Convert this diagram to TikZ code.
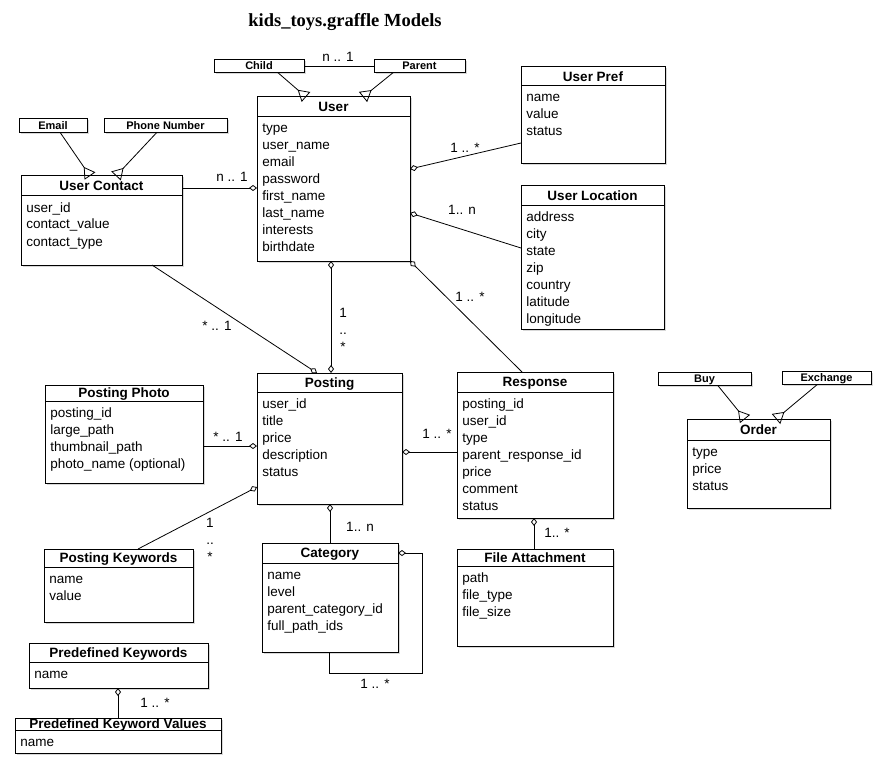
\documentclass[tikz,border=0pt]{standalone}
\usepackage{fontspec}
\setmainfont{Liberation Sans}
\newfontfamily\titlefont{Liberation Serif}
\usetikzlibrary{arrows.meta,shadows}

\newcommand{\umlclass}[8]{%
  \node[classbox, minimum width=#4pt, minimum height=#5pt] (#1) at (#2,#3) {};
  \node[classtitle] (#1-title) at (#2+#4/2,#3+#6/2) {#7};
  \draw[line width=1pt] (#2,#3+#6) -- (#2+#4,#3+#6);
  \node[classfields] (#1-fields) at (#2+5,#3+#6+16) {\begin{tabular}[t]{@{}l@{}}#8\end{tabular}};
}

\begin{document}
\begin{tikzpicture}[x=1pt, y=-1pt, line width=0.8pt,
  classbox/.style={draw, line width=1pt, anchor=north west, inner sep=0pt, outer sep=0pt, fill=white,
    drop shadow={shadow xshift=1.5pt, shadow yshift=-1.5pt, opacity=.3}},
  classtitle/.style={inner sep=0pt, text height=9.7pt, text depth=0pt, font=\bfseries\fontsize{13.5}{16}\selectfont},
  classfields/.style={anchor=base west, inner sep=0pt, font=\fontsize{13.5}{17}\selectfont},
  genbox/.style={draw, line width=1pt, inner sep=0pt, outer sep=0pt, minimum height=13.5pt, text height=7.9pt, text depth=0pt,
    fill=white, font=\bfseries\fontsize{11}{13}\selectfont,
    drop shadow={shadow xshift=1.5pt, shadow yshift=-1.5pt, opacity=.3}},
  mult/.style={inner sep=0pt, font=\fontsize{13.5}{17}\selectfont},
  agg/.style={-{Diamond[open,length=8pt,width=6pt]}},
  aggboth/.style={{Diamond[open,length=8pt,width=6pt]}-{Diamond[open,length=8pt,width=6pt]}},
  isa/.style={-{Triangle[open,reversed,length=11pt,width=13pt]}}]
  \path[use as bounding box, fill=white] (0,0) rectangle (886,770);

  \node[anchor=base] (title) at (345,27) {\titlefont\bfseries\fontsize{18.5}{22}\selectfont kids\_toys.graffle Models};

  \umlclass{user}{257}{97}{153}{164}{20}{User}{type\\user\_name\\email\\password\\first\_name\\last\_name\\interests\\birthdate}
  \umlclass{userpref}{521}{67}{144}{97}{19}{User Pref}{name\\value\\status}
  \umlclass{userloc}{521}{186}{143}{143}{20}{User Location}{address\\city\\state\\zip\\country\\latitude\\longitude}
  \umlclass{contact}{21}{176}{161}{89}{20}{User Contact}{user\_id\\contact\_value\\contact\_type}
  \umlclass{posting}{257}{373}{145}{131}{19}{Posting}{user\_id\\title\\price\\description\\status}
  \umlclass{response}{457}{372}{156}{146}{20}{Response}{posting\_id\\user\_id\\type\\parent\_response\_id\\price\\comment\\status}
  \umlclass{category}{262}{543}{136}{109}{20}{Category}{name\\level\\parent\_category\_id\\full\_path\_ids}
  \umlclass{fileatt}{457}{549}{156}{97}{17}{File Attachment}{path\\file\_type\\file\_size}
  \umlclass{photo}{45}{385}{158}{98}{16}{Posting Photo}{posting\_id\\large\_path\\thumbnail\_path\\photo\_name (optional)}
  \umlclass{keywords}{44}{549}{149}{73}{18}{Posting Keywords}{name\\value}
  \umlclass{predef}{29}{643}{179}{45}{19}{Predefined Keywords}{name}
  \umlclass{predefval}{15}{718}{206}{35}{12}{Predefined Keyword Values}{name}
  \umlclass{order}{687}{419}{143}{89}{21}{Order}{type\\price\\status}

  \node[genbox, minimum width=90pt] (child) at (259,66) {Child};
  \node[genbox, minimum width=91pt] (parent) at (419.5,66) {Parent};
  \node[genbox, minimum width=68pt] (email) at (53,125.5) {Email};
  \node[genbox, minimum width=123pt] (phone) at (165.5,125.5) {Phone Number};
  \node[genbox, minimum width=93pt] (buy) at (704.5,379) {Buy};
  \node[genbox, minimum width=89pt] (exchange) at (826.5,378) {Exchange};

  \draw (child) -- (parent);
  \draw[isa] (child.south -| 278,0) -- (user.north -| 306,0);
  \draw[isa] (parent.south -| 393,0) -- (user.north -| 363,0);
  \draw[isa] (email.south -| 60,0) -- (contact.north -| 90,0);
  \draw[isa] (phone.south -| 157,0) -- (contact.north -| 116,0);
  \draw[isa] (buy.south -| 718,0) -- (order.north -| 745,0);
  \draw[isa] (exchange.south -| 817,0) -- (order.north -| 776,0);

  \draw[agg] (contact.east |- 0,188) -- (user.west |- 0,188);
  \draw[agg] (userpref.west |- 0,143) -- (user.east |- 0,169);
  \draw[agg] (userloc.west |- 0,248) -- (user.east |- 0,213);
  \draw[agg] (response.north -| 522,0) -- (user.south east);
  \draw[agg] (contact.south -| 152,0) -- (posting.north -| 317,0);
  \draw[aggboth] (user.south -| 331,0) -- (posting.north -| 331,0);
  \draw[agg] (photo.east |- 0,446) -- (posting.west |- 0,446);
  \draw[agg] (keywords.north -| 138,0) -- (posting.west |- 0,487);
  \draw[agg] (response.west |- 0,452) -- (posting.east |- 0,452);
  \draw[agg] (category.north -| 330,0) -- (posting.south -| 330,0);
  \coordinate (loop) at (422,673);
  \draw[agg] (category.south -| 329,0) |- (loop) |- (category.east |- 0,553);
  \draw[agg] (fileatt.north -| 534,0) -- (response.south -| 534,0);
  \draw[agg] (predefval.north -| 118,0) -- (predef.south -| 118,0);

  \node[mult] (m0) at (338,57) {n .. 1};
  \node[mult] (m1) at (232,177) {n .. 1};
  \node[mult] (m2) at (465,148) {1 .. *};
  \node[mult] (m3) at (462,210) {1.. n};
  \node[mult] (m4) at (470,297) {1 .. *};
  \node[mult] (m5) at (217,326) {* .. 1};
  \node[mult, anchor=base, align=center] (m6) at (343,351) {1\\..\\*};
  \node[mult] (m7) at (228,437) {* .. 1};
  \node[mult, anchor=base, align=center] (m8) at (210,561) {1\\..\\*};
  \node[mult] (m9) at (437,434) {1 .. *};
  \node[mult] (m10) at (360,527) {1.. n};
  \node[mult] (m11) at (375,684) {1 .. *};
  \node[mult] (m12) at (557,533) {1.. *};
  \node[mult] (m13) at (155,703) {1 .. *};
\end{tikzpicture}
\end{document}
